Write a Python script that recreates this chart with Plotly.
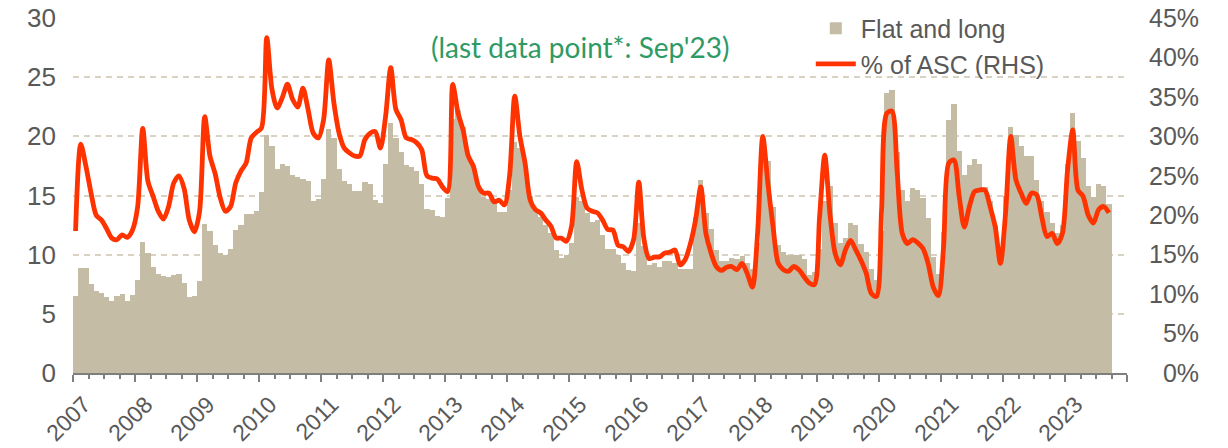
import plotly.graph_objects as go

year_labels = [str(y) for y in range(2007, 2024)] + [""]

flat_and_long = [
    # 2007
    6.5, 8.9, 8.9, 7.5, 6.9, 6.8, 6.4, 6.1, 6.5, 6.7, 6.1, 6.6,
    # 2008
    7.9, 11.1, 10.1, 9.0, 8.4, 8.2, 8.1, 8.3, 8.4, 7.6, 6.4, 6.5,
    # 2009
    7.8, 12.6, 12.0, 10.8, 10.1, 10.0, 10.5, 12.1, 12.5, 13.4, 13.4, 13.7,
    # 2010
    15.3, 20.1, 19.2, 17.2, 17.7, 17.5, 16.7, 16.6, 16.4, 16.2, 14.5, 14.7,
    # 2011
    16.4, 20.6, 19.9, 17.2, 16.2, 16.0, 15.4, 15.4, 16.1, 16.0, 14.6, 14.4,
    # 2012
    17.7, 21.1, 19.9, 18.7, 17.6, 17.4, 17.1, 16.0, 13.9, 13.8, 13.3, 13.2,
    # 2013
    14.8, 21.5, 22.2, 20.8, 18.3, 17.4, 15.6, 14.9, 14.7, 14.4, 13.6, 13.6,
    # 2014
    15.5, 19.5, 19.0, 17.5, 15.0, 13.8, 13.2, 12.5, 11.8, 10.4, 9.7, 10.0,
    # 2015
    11.0, 14.9, 14.5, 13.5, 12.8, 12.9, 11.7, 10.5, 10.5, 10.0, 9.3, 8.7,
    # 2016
    8.6, 12.7, 10.7, 9.1, 9.3, 9.0, 9.5, 9.5, 9.3, 8.8, 8.8, 8.8,
    # 2017
    13.2, 16.3, 13.5, 12.2, 10.4, 9.5, 9.5, 9.7, 9.6, 9.9, 9.3, 8.8,
    # 2018
    11.0, 18.5, 17.9, 14.0, 10.8, 10.2, 10.0, 10.0, 10.0, 9.6, 8.3, 8.5,
    # 2019
    10.5, 14.5, 15.8, 12.7, 11.0, 11.4, 12.7, 12.5, 10.9, 10.2, 8.8, 7.9,
    # 2020
    12.0, 23.7, 23.9, 18.7, 15.5, 14.5, 15.6, 15.5, 14.8, 13.1, 9.8, 8.4,
    # 2021
    11.9, 21.4, 22.7, 18.8, 16.7, 17.6, 18.1, 17.7, 15.7, 14.5, 12.5, 10.5,
    # 2022
    15.0, 20.8, 20.1, 19.2, 18.3, 18.3, 16.3, 14.5, 13.6, 12.7, 11.8, 12.5,
    # 2023 (Jan-Sep)
    17.7, 22.0, 19.6, 18.2, 15.8, 14.9, 16.0, 15.8, 14.3,
]

pct_of_asc = [
    # 2007
    18.0, 29.0, 26.2, 22.8, 20.0, 19.4, 18.3, 17.1, 16.9, 17.5, 17.2, 18.1,
    # 2008
    21.0, 31.0, 24.3, 22.4, 20.5, 19.5, 21.1, 24.1, 25.0, 23.4, 19.4, 17.9,
    # 2009
    20.5, 32.5, 27.5, 25.3, 22.2, 20.5, 21.1, 24.1, 25.6, 26.6, 29.8, 30.5,
    # 2010
    31.1, 42.5, 36.0, 33.6, 34.9, 36.6, 34.7, 33.7, 36.1, 33.4, 30.4, 29.8,
    # 2011
    32.1, 39.7, 34.2, 30.4, 28.5, 27.9, 27.5, 27.5, 29.6, 30.4, 30.6, 28.5,
    # 2012
    32.5, 38.7, 33.4, 32.1, 29.8, 29.6, 29.2, 28.3, 25.0, 24.7, 24.6, 23.6,
    # 2013
    23.0, 36.6, 33.0, 30.8, 27.5, 26.2, 23.6, 22.8, 22.8, 21.7, 21.9, 21.3,
    # 2014
    25.0, 35.1, 30.0, 26.6, 21.9, 20.7, 20.3, 19.4, 18.6, 17.1, 17.1, 16.7,
    # 2015
    18.6, 26.8, 23.2, 20.9, 20.5, 20.3, 19.4, 18.2, 18.1, 16.2, 16.0, 15.4,
    # 2016
    16.9, 24.2, 17.0, 14.5, 14.7, 14.7, 15.2, 15.3, 15.6, 13.7, 14.4, 16.4,
    # 2017
    19.4, 23.6, 17.7, 15.2, 13.5, 13.0, 13.4, 13.5, 13.1, 13.9, 12.6, 10.9,
    # 2018
    17.7, 30.0, 24.0, 18.5, 13.9, 13.1, 12.9, 13.5, 13.1, 12.2, 11.4, 11.2,
    # 2019
    19.8, 27.6, 20.2, 15.2, 13.7, 15.6, 16.8, 15.6, 14.3, 12.7, 10.1, 9.7,
    # 2020
    20.7, 32.9, 33.2, 25.7, 17.7, 16.4, 16.9, 16.5, 15.8, 13.9, 10.9, 9.8,
    # 2021
    16.0, 26.6, 27.0, 22.5, 18.5, 21.1, 23.0, 23.2, 23.2, 21.1, 18.5, 13.9,
    # 2022
    20.3, 30.0, 24.5, 22.8, 21.5, 22.8, 22.6, 19.8, 17.3, 17.7, 16.4, 17.7,
    # 2023 (Jan-Sep)
    25.8, 30.8, 23.2, 22.4, 20.0, 19.0, 20.7, 21.1, 20.3,
]

left_ticks = [0, 5, 10, 15, 20, 25, 30]
right_ticks = [0, 5, 10, 15, 20, 25, 30, 35, 40, 45]

months = list(range(len(flat_and_long)))
year_tick_pos = [-0.5 + 12 * k for k in range(len(year_labels))]
right_text = [("\u2007" if v < 10 else "") + f"{v}%" for v in right_ticks]

GREY = "#595959"
FONT = "Liberation Sans, Arial, sans-serif"

fig = go.Figure()
fig.add_bar(
    x=months, y=flat_and_long, name="Flat and long",
    marker=dict(color="#C4BCA5", line=dict(width=0)), yaxis="y",
)
fig.add_scatter(
    x=months, y=pct_of_asc, name="% of ASC (RHS)", mode="lines",
    line=dict(color="#FF3300", width=4.8, shape="spline", smoothing=0.8),
    yaxis="y2",
)

fig.update_layout(
    width=1228, height=448,
    margin=dict(l=73, r=101, t=18, b=75, autoexpand=False),
    paper_bgcolor="white", plot_bgcolor="white",
    bargap=0,
    font=dict(family=FONT, color=GREY, size=24),
    showlegend=True,
    legend=dict(
        x=0.70, y=1.035, xanchor="left", yanchor="top",
        font=dict(size=25, color=GREY, family=FONT),
        bgcolor="rgba(0,0,0,0)", tracegroupgap=0, itemwidth=40,
    ),
    xaxis=dict(
        range=[-0.5, 203.5], tickmode="array",
        tickvals=year_tick_pos, ticktext=year_labels,
        tickangle=-45, tickfont=dict(size=23, color=GREY),
        ticklabelshift=11,
        showgrid=False, zeroline=False,
        showline=True, linecolor="#7F7F7F", linewidth=2,
        ticks="outside", ticklen=7, tickwidth=2, tickcolor="#7F7F7F",
        minor=dict(tick0=-0.5, dtick=3, ticks="outside", ticklen=4,
                   tickwidth=1.5, tickcolor="#7F7F7F", showgrid=False),
        automargin=False, ticklabeloverflow="allow",
    ),
    yaxis=dict(
        range=[0, 30], tickmode="array", tickvals=left_ticks,
        tickfont=dict(size=26, color=GREY),
        showgrid=True, gridcolor="#D9D2C3", gridwidth=1.5,
        griddash="6px,5px", zeroline=False, showline=False,
        ticks="", ticklabelstandoff=16, automargin=False,
        ticklabeloverflow="allow",
    ),
    yaxis2=dict(
        range=[0, 45], tickmode="array", tickvals=right_ticks,
        ticktext=right_text, overlaying="y", side="right",
        tickfont=dict(size=25, color=GREY),
        showgrid=False, zeroline=False, showline=False,
        ticks="", ticklabelstandoff=21, automargin=False,
        ticklabeloverflow="allow",
    ),
)

fig.add_annotation(
    text="(last data point*: Sep'23)", xref="paper", yref="paper",
    x=0.481, y=0.918, xanchor="center", yanchor="middle",
    showarrow=False, font=dict(family="Lato, Open Sans, sans-serif", size=28, color="#2E9A66"),
)

# remove the default 8px page margin so the 1228x448 figure fills the window exactly
fig.write_html(
    "out.html",
    config={"displayModeBar": False},
    post_script="document.body.style.margin='0';document.body.style.overflow='hidden';",
)
